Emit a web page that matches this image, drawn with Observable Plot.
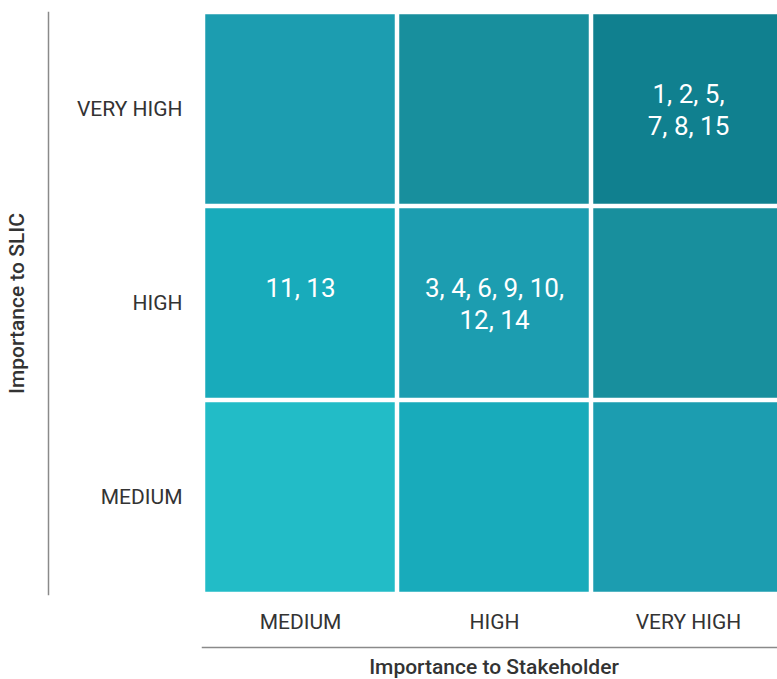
<!DOCTYPE html>
<html>
<head>
<meta charset="utf-8">
<script src="https://cdn.jsdelivr.net/npm/d3@7"></script>
<script src="https://cdn.jsdelivr.net/npm/@observablehq/plot@0.6"></script>
<style>
  html, body { margin: 0; padding: 0; background: #fff; }
  #chart svg { display: block; font-family: Roboto, sans-serif; }
</style>
</head>
<body>
<div id="chart"></div>
<script>
const levels = ["MEDIUM", "HIGH", "VERY HIGH"];
const cellStakeholder = ["MEDIUM", "HIGH", "VERY HIGH", "MEDIUM", "HIGH", "VERY HIGH", "MEDIUM", "HIGH", "VERY HIGH"];
const cellSlic        = ["VERY HIGH", "VERY HIGH", "VERY HIGH", "HIGH", "HIGH", "HIGH", "MEDIUM", "MEDIUM", "MEDIUM"];
const cellIds         = ["", "", "1, 2, 5,\n7, 8, 15", "11, 13", "3, 4, 6, 9, 10,\n12, 14", "", "", "", ""];
const shadeLevels = [0, 1, 2, 3, 4];
const shadeColors = ["#22bcc7", "#18abbb", "#1c9db0", "#188f9d", "#10808f"];
const xTitle = "Importance to Stakeholder";
const yTitle = "Importance to SLIC";

const cells = cellIds.map((t, i) => ({
  stakeholder: cellStakeholder[i],
  slic: cellSlic[i],
  ids: t,
  shade: levels.indexOf(cellStakeholder[i]) + levels.indexOf(cellSlic[i])
}));

const chart = Plot.plot({
  width: 777,
  height: 679,
  marginLeft: 202,
  marginRight: -8,
  marginTop: 12,
  marginBottom: 85,
  style: { fontFamily: "Roboto, sans-serif", background: "#fff" },
  x: { domain: levels, padding: 0, label: null },
  y: { domain: levels.slice().reverse(), padding: 0, label: null },
  color: { type: "ordinal", domain: shadeLevels, range: shadeColors },
  marks: [
    Plot.cell(cells, { x: "stakeholder", y: "slic", fill: "shade", inset: 2.25 }),
    Plot.text(cells, {
      x: "stakeholder", y: "slic", text: "ids", fill: "white",
      fontSize: 26, lineAnchor: "top", lineHeight: 1.23, dy: -29
    }),
    Plot.axisX({ tickSize: 0, tickPadding: 20, fontSize: 21, fill: "#333", label: null }),
    Plot.axisY({ tickSize: 0, tickPadding: 20, fontSize: 21, fill: "#333", label: null }),
    Plot.frame({ anchor: "bottom", dy: 53, stroke: "#8a8a8a", strokeWidth: 1.5 }),
    Plot.frame({ anchor: "left", dx: -154, stroke: "#8a8a8a", strokeWidth: 1.5 }),
    Plot.text([xTitle], {
      frameAnchor: "bottom", dy: 73, text: d => d, textAnchor: "middle",
      fontSize: 21, fontWeight: 500, fill: "#333", lineAnchor: "middle"
    }),
    Plot.text([yTitle], {
      frameAnchor: "left", dx: -185, rotate: -90, text: d => d, textAnchor: "middle",
      fontSize: 21, fontWeight: 500, fill: "#333", lineAnchor: "middle"
    })
  ]
});
document.getElementById("chart").appendChild(chart);
</script>
</body>
</html>
